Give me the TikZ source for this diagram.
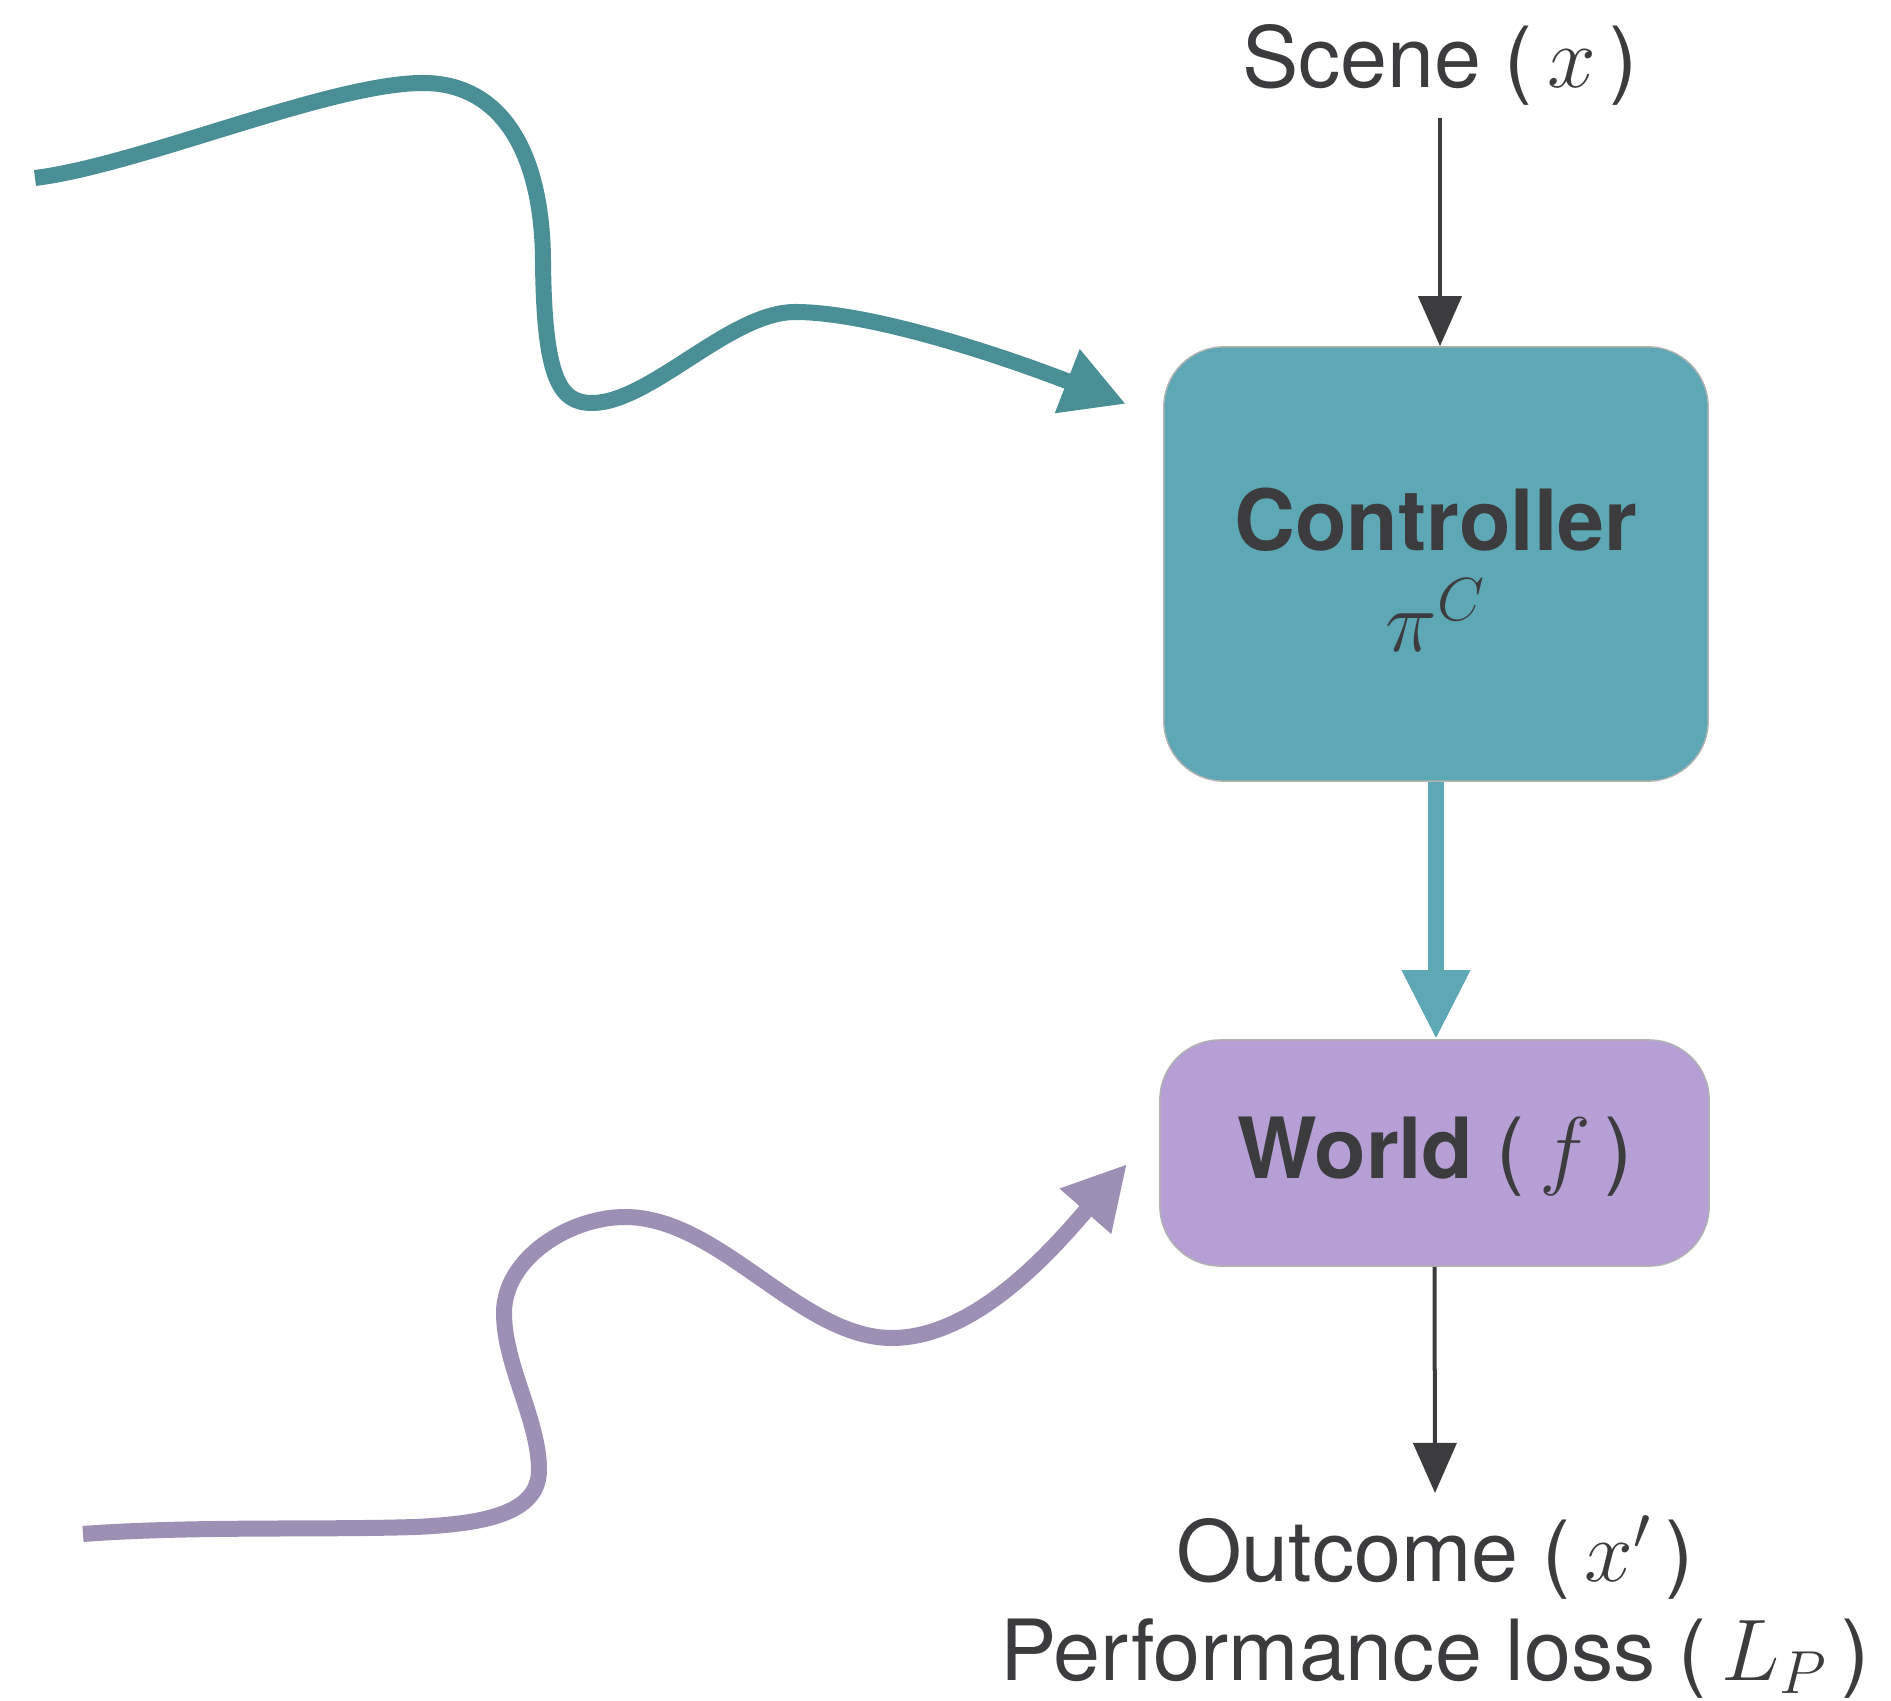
\documentclass[tikz,border=0pt]{standalone}
\usepackage{fontspec}
\setmainfont{TeX Gyre Heros}
\usetikzlibrary{arrows.meta}

\definecolor{inkgray}{HTML}{3C3C3E}
\definecolor{tealbox}{HTML}{5DA8B4}
\definecolor{tealcurve}{HTML}{4A8F96}
\definecolor{lilacbox}{HTML}{B59FD4}
\definecolor{lilaccurve}{HTML}{9E8FB5}

\tikzset{
  lbl/.style={font=\fontsize{24}{29}\selectfont, text=inkgray, inner sep=0pt},
  boldlbl/.style={lbl, font=\fontsize{24}{29}\selectfont\bfseries},
  stage/.style={rectangle, rounded corners=0.6cm, draw=black!30, line width=0.4pt, inner sep=0pt},
  flow/.style={draw=inkgray, line width=0.04cm, -{Triangle[length=0.5cm,width=0.43cm]}},
  mainflow/.style={draw=tealbox, line width=0.16cm, -{Triangle[length=0.69cm,width=0.64cm]}},
  wavy/.style={line width=0.16cm, -{Triangle[length=0.63cm,width=0.64cm]}},
}

\begin{document}
\begin{tikzpicture}[x=0.01cm, y=-0.01cm]
  \useasboundingbox (0,0) rectangle (1891,1701);

  % boxes
  \node[stage, fill=tealbox, minimum width=5.44cm, minimum height=4.34cm] (ctrl) at (1436,564) {};
  \node[stage, fill=lilacbox, minimum width=5.49cm, minimum height=2.26cm] (world) at (1434.5,1153) {};

  % labels
  \node[lbl, anchor=base] (scene) at (1440,88) {Scene (\,$x$\,)};
  \node[boldlbl, anchor=base] (ctrltitle) at (1436,551) {Controller};
  \node[lbl, anchor=base] (ctrlsym) at (1436,652) {$\pi^{C}$};
  \node[boldlbl, anchor=base] (worldtitle) at (1435,1178) {World \mdseries(\,$f$\,)};
  \node[lbl, anchor=base] (outcome) at (1435,1581) {Outcome (\,$x'$\,)};
  \node[lbl, anchor=base] (loss) at (1435,1680) {Performance loss (\,$L_P$\,)};

  % straight connectors
  \draw[flow] ([yshift=-0.30cm]scene.base) -- (scene.base |- ctrl.north);
  \draw[mainflow] (ctrl.south) -- (ctrl.south |- world.north);
  \draw[flow] (world.south) -- ([yshift=0.88cm]outcome.base);

  % wavy input into the controller
  \coordinate (tstart) at (35,178);
  \coordinate (ttip) at (1126,404);
  \draw[wavy, draw=tealcurve] (tstart)
    .. controls (140,165) and (330,83) .. (423,83)
    .. controls (500,83) and (542,150) .. (543,260)
    .. controls (544,380) and (560,403) .. (592,403)
    .. controls (650,403) and (730,312) .. (795,312)
    .. controls (870,312) and (1000,355) .. (ttip);

  % wavy input into the world
  \coordinate (pstart) at (83,1534);
  \coordinate (ptip) at (1127,1164);
  \draw[wavy, draw=lilaccurve] (pstart)
    .. controls (190,1526) and (320,1530) .. (415,1527)
    .. controls (480,1524) and (539,1515) .. (539,1470)
    .. controls (539,1420) and (504,1365) .. (504,1313)
    .. controls (504,1258) and (570,1217) .. (625,1217)
    .. controls (720,1217) and (800,1338) .. (892,1338)
    .. controls (980,1338) and (1061,1239) .. (ptip);
\end{tikzpicture}
\end{document}
